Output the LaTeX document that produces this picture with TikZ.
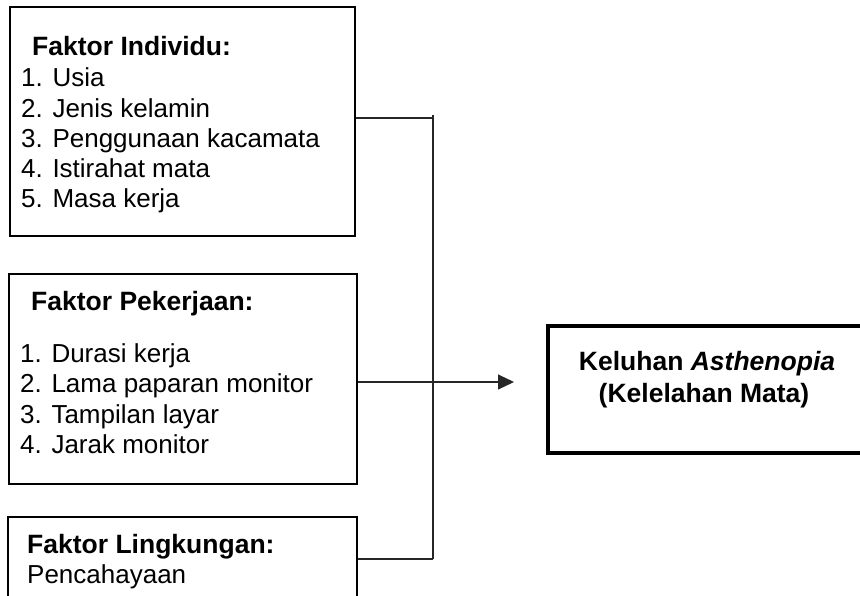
\documentclass[tikz,border=0pt]{standalone}
\usepackage{fontspec}
\setmainfont{Liberation Sans}
\usetikzlibrary{arrows.meta}
\begin{document}
\begin{tikzpicture}[x=1pt,y=-1pt,
  fbox/.style={draw=black,line width=2pt,inner sep=0pt},
  obox/.style={draw=black,line width=3.2pt,inner sep=0pt},
  txt/.style={inner sep=0pt,anchor=base west,font=\fontsize{26}{30}\selectfont},
  btxt/.style={txt,font=\fontsize{26.5}{30}\selectfont\bfseries},
  conn/.style={draw=black!85,line width=1.1pt}]
\useasboundingbox (0,0) rectangle (860,595);
\clip (0,0) rectangle (860,595);
\fill[white] (0,0) rectangle (860,595);
% boxes
\node[fbox,minimum width=345pt,minimum height=229pt] (b1) at (182,121.5) {};
\node[fbox,minimum width=348pt,minimum height=210pt] (b2) at (183,379) {};
\node[fbox,minimum width=349pt,minimum height=120pt] (b3) at (182.5,577) {};
\node[obox,minimum width=322pt,minimum height=127pt] (b4) at (709,389.5) {};
% box 1 text
\node[btxt] (h1) at (32,55) {Faktor Individu:};
\node[txt] (a1) at (21,86) {1. Usia};
\node[txt] (a2) at (21,117) {2. Jenis kelamin};
\node[txt] (a3) at (21,147) {3. Penggunaan kacamata};
\node[txt] (a4) at (21,177) {4. Istirahat mata};
\node[txt] (a5) at (21,207) {5. Masa kerja};
% box 2 text
\node[btxt] (h2) at (31,310) {Faktor Pekerjaan:};
\node[txt] (p1) at (20,362) {1. Durasi kerja};
\node[txt] (p2) at (20,392) {2. Lama paparan monitor};
\node[txt] (p3) at (20,423) {3. Tampilan layar};
\node[txt] (p4) at (20,453) {4. Jarak monitor};
% box 3 text
\node[btxt] (h3) at (27,553) {Faktor Lingkungan:};
\node[txt] (l1) at (27,583) {Pencahayaan};
% box 4 text
\node[btxt,anchor=base] (k1) at (707,370) {Keluhan \textit{Asthenopia}};
\node[btxt,anchor=base] (k2) at (704,402) {(Kelelahan Mata)};
% connectors
\coordinate (top) at (433,115);
\coordinate (j1) at (433,118);
\coordinate (j3) at (433,559);
\coordinate (tip) at (514,382);
\draw[conn] (top) -- (j3);
\draw[conn] (b1.east |- j1) -- (j1);
\draw[conn] (b3.east |- j3) -- (j3);
\draw[conn,-{Triangle[length=16pt,width=15pt]}] (b2.east |- tip) -- (tip);
\end{tikzpicture}
\end{document}
